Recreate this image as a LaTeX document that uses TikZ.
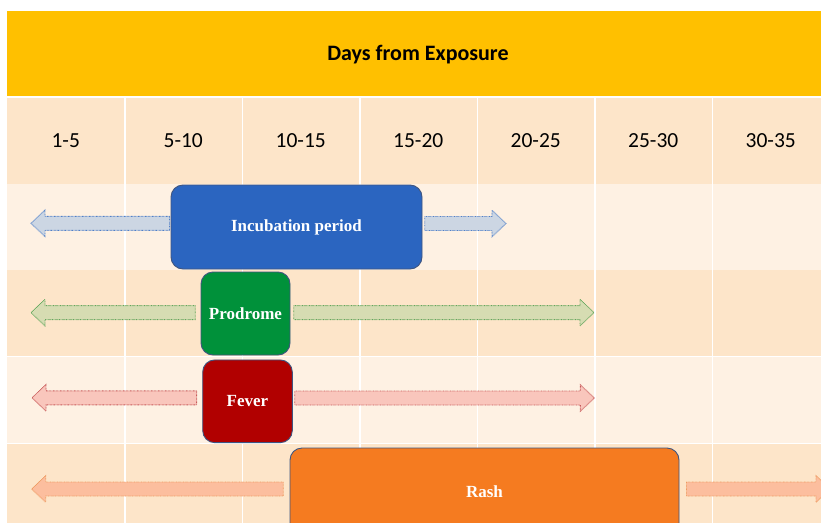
\documentclass[tikz,border=0pt]{standalone}
\usepackage{fontspec}
\setmainfont{Carlito}
\newfontfamily\evtfont{Liberation Serif}
\usepackage{xcolor}
\usepackage{tikz}
\usetikzlibrary{calc}

\definecolor{hdryellow}{HTML}{FFC000}
\definecolor{celldk}{HTML}{FDE5C9}
\definecolor{celllt}{HTML}{FEF1E3}
\definecolor{incblue}{HTML}{2B65C0}
\definecolor{progreen}{HTML}{00913A}
\definecolor{fevred}{HTML}{B10000}
\definecolor{rashorange}{HTML}{F57B20}
\definecolor{evtline}{HTML}{3F5580}
\definecolor{bluline}{HTML}{5080C8}
\definecolor{blufill}{HTML}{CCD6E3}
\definecolor{grnline}{HTML}{62A65C}
\definecolor{grnfill}{HTML}{D6DCB2}
\definecolor{rdline}{HTML}{C85A5A}
\definecolor{rdfill}{HTML}{F9C6BC}
\definecolor{orgline}{HTML}{EE9A60}
\definecolor{orgfill}{HTML}{FCBE9E}

% block arrow: style, start anchor, tip coordinate, gap at start
\newcommand{\blockarr}[4]{%
  \draw[#1] ($(#2)+(#4,-7)$) -- ($(#3)!14pt!(#2)+(0,-7)$) -- ($(#3)!14pt!(#2)+(0,-13.3)$)
    -- (#3) -- ($(#3)!14pt!(#2)+(0,13.3)$) -- ($(#3)!14pt!(#2)+(0,7)$) -- ($(#2)+(#4,7)$) -- cycle;}

\begin{document}
\begin{tikzpicture}[
  x=1pt, y=-1pt,
  hdr/.style={font=\fontsize{22}{26}\selectfont\bfseries, text=black},
  col/.style={font=\fontsize{21.5}{26}\selectfont, text=black},
  evt/.style={draw=evtline, line width=0.9pt, rounded corners=12pt, text=white,
              font=\evtfont\fontsize{17}{20}\selectfont\bfseries, inner sep=0pt},
  grid/.style={white, line width=1.5pt},
  barr/.style={line width=0.9pt, dash pattern=on 0.7pt off 0.7pt, line join=miter},
  blu/.style={barr, draw=bluline, fill=blufill},
  grn/.style={barr, draw=grnline, fill=grnfill},
  rd/.style={barr, draw=rdline, fill=rdfill},
  org/.style={barr, draw=orgline, fill=orgfill}
]
\useasboundingbox (0,0) rectangle (821,522);
\clip (0,0) rectangle (821,522);
\fill[white] (0,0) rectangle (821,522);
\fill[hdryellow] (7,11) rectangle (830,96);
\node[hdr] (title) at (418,55) {Days from Exposure};
\foreach \y/\c in {98/celldk,184/celllt,270/celldk,357/celllt,444/celldk}
  \fill[\c] (7,\y) rectangle ++(823,85.5);
\foreach \x in {125,242.5,360,477.5,595,712.5}
  \draw[grid] (\x,98) -- (\x,530);
\foreach \t [count=\i] in {1-5,5-10,10-15,15-20,20-25,25-30,30-35}
  \node[col] (c\i) at ({7+117.5*(\i-0.5)},141) {\t};

\coordinate (incL) at (31,223.3);
\coordinate (incR) at (506,223.5);
\coordinate (proL) at (31,312.6);
\coordinate (proR) at (594,312.6);
\coordinate (fevL) at (32,397.8);
\coordinate (fevR) at (594.3,398);
\coordinate (rashL) at (31.7,489);
\coordinate (rashR) at (830,489);

\node[evt, fill=incblue, minimum width=251pt, minimum height=84pt] (inc) at (296.5,227) {Incubation period};
\node[evt, fill=progreen, minimum width=89pt, minimum height=83pt] (pro) at (245.5,313.5) {Prodrome};
\node[evt, fill=fevred, minimum width=89.6pt, minimum height=82.7pt] (fev) at (247.5,401.3) {Fever};
\node[evt, fill=rashorange, minimum width=389pt, minimum height=88pt] (rash) at (484.5,492) {Rash};

\blockarr{blu}{inc.west |- incL}{incL}{-1}
\blockarr{blu}{inc.east |- incR}{incR}{2.3}
\blockarr{grn}{pro.west |- proL}{proL}{-5.3}
\blockarr{grn}{pro.east |- proR}{proR}{3.3}
\blockarr{rd}{fev.west |- fevL}{fevL}{-5.7}
\blockarr{rd}{fev.east |- fevR}{fevR}{2}
\blockarr{org}{rash.west |- rashL}{rashL}{-6.3}
\blockarr{org}{rash.east |- rashR}{rashR}{7}
\end{tikzpicture}
\end{document}
